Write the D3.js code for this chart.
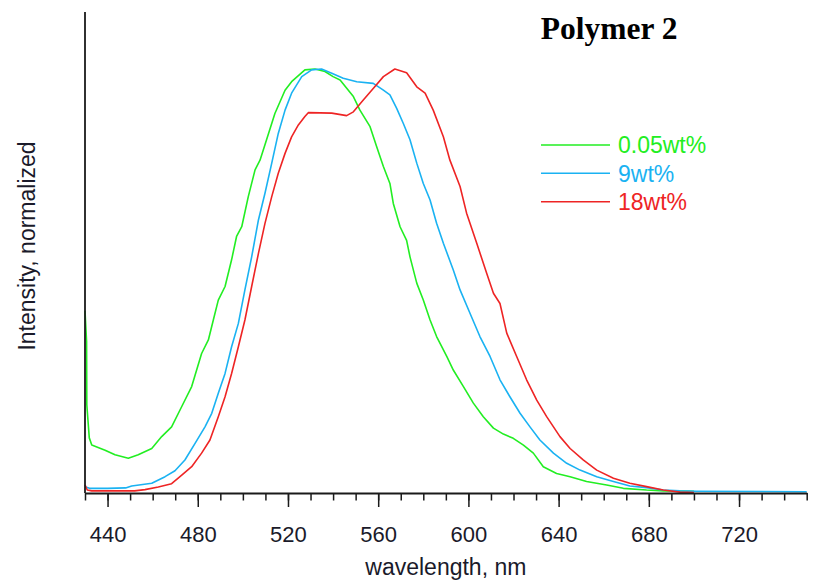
<!DOCTYPE html>
<html>
<head>
<meta charset="utf-8">
<script src="https://cdn.jsdelivr.net/npm/d3@7"></script>
<style>
  html, body { margin: 0; padding: 0; background: #fff; }
  svg { display: block; }
</style>
</head>
<body>
<svg id="chart" width="831" height="584"></svg>
<script>
// Emission spectra of Polymer 2 at three loadings (intensity normalized to peak = 1)
const seriesNames = ["0.05wt%", "9wt%", "18wt%"];
const seriesColors = ["#22ee22", "#1ab2f2", "#ee2424"];

const wl005 = [430, 430.7, 430.8, 431.9, 433, 438.9, 443.3, 449.2, 453.6, 459.6, 464, 468.4, 472.9, 477.3, 481.7, 484.7, 486.9, 489.1, 492.1, 495, 497.2, 499.5, 502.4, 505.4, 507.6, 510.5, 514.2, 518.7, 521.6, 527.5, 532, 536.4, 540, 543.1, 549, 551.9, 556.4, 559.3, 562.3, 565.2, 566.7, 569.7, 572.6, 574.1, 577.1, 580, 583, 585.9, 590.4, 593.3, 597.8, 602.2, 606.6, 611.1, 615.5, 619.9, 624.4, 628.8, 633.2, 639.1, 645.1, 652.4, 661.3, 668.7, 679, 686.4, 700];
const int005 = [0.43, 0.357, 0.208, 0.13, 0.113, 0.101, 0.09, 0.082, 0.09, 0.105, 0.133, 0.156, 0.204, 0.251, 0.329, 0.361, 0.408, 0.455, 0.487, 0.55, 0.605, 0.628, 0.699, 0.762, 0.785, 0.833, 0.895, 0.95, 0.97, 0.998, 1.0, 0.994, 0.982, 0.974, 0.935, 0.903, 0.864, 0.817, 0.77, 0.73, 0.683, 0.628, 0.596, 0.557, 0.495, 0.455, 0.408, 0.369, 0.322, 0.29, 0.251, 0.212, 0.18, 0.153, 0.139, 0.129, 0.113, 0.094, 0.062, 0.046, 0.0385, 0.027, 0.019, 0.011, 0.007, 0.005, 0.004];

const wl9 = [430, 432, 440, 448, 450.7, 459.6, 465.5, 469.9, 474.3, 478.8, 483.2, 486.2, 489.1, 492.1, 495, 498, 500.9, 503.9, 506.9, 509.8, 512.8, 515.7, 518.7, 521.6, 526.1, 530.5, 534.9, 539.4, 544.5, 550.5, 557.8, 562.3, 565.2, 568.2, 571.1, 574.1, 577.1, 580, 583, 585.9, 588.9, 593.3, 596.3, 600.7, 605.1, 609.6, 614, 618.4, 622.9, 627.3, 631.7, 637.7, 643.6, 649.5, 656.9, 664.3, 671.6, 679, 686.4, 693.8, 701.2, 750];
const int9 = [0.015, 0.011, 0.011, 0.012, 0.0165, 0.023, 0.0385, 0.0526, 0.0778, 0.117, 0.156, 0.188, 0.235, 0.282, 0.345, 0.4, 0.479, 0.557, 0.644, 0.707, 0.778, 0.848, 0.903, 0.943, 0.982, 0.998, 1.0, 0.99, 0.978, 0.97, 0.966, 0.95, 0.939, 0.907, 0.872, 0.833, 0.778, 0.73, 0.691, 0.636, 0.589, 0.526, 0.479, 0.424, 0.369, 0.322, 0.267, 0.227, 0.188, 0.156, 0.125, 0.094, 0.07, 0.054, 0.0385, 0.027, 0.0165, 0.0126, 0.007, 0.005, 0.004, 0.003];

const wl18 = [430, 431, 433, 445, 452, 456.6, 462.5, 468.4, 472.9, 477.3, 481.7, 485.4, 489.1, 492.1, 495, 498, 500.9, 503.9, 506.9, 509.8, 512.8, 515.7, 518.7, 521.6, 524.6, 527.5, 529, 539.4, 546, 549, 553.4, 557.8, 562.3, 567.4, 572.6, 577.1, 580.8, 584.4, 588.9, 591.8, 596.3, 599.2, 603.7, 608.1, 611.1, 614, 617, 621.4, 625.8, 630.3, 634.7, 640.6, 645.1, 650.9, 656.9, 664.3, 671.6, 679, 686.4, 693.8, 700];
const int18 = [0.019, 0.007, 0.005, 0.005, 0.005, 0.008, 0.014, 0.022, 0.042, 0.062, 0.094, 0.125, 0.18, 0.227, 0.282, 0.345, 0.408, 0.487, 0.565, 0.636, 0.699, 0.754, 0.801, 0.84, 0.868, 0.888, 0.897, 0.896, 0.89, 0.899, 0.927, 0.954, 0.982, 1.0, 0.991, 0.958, 0.943, 0.903, 0.84, 0.785, 0.723, 0.66, 0.589, 0.518, 0.471, 0.447, 0.377, 0.322, 0.267, 0.219, 0.18, 0.133, 0.105, 0.078, 0.054, 0.035, 0.023, 0.015, 0.007, 0.002, 0.001];

const xMajorTicks = [440, 480, 520, 560, 600, 640, 680, 720];
const xMinorTicks = d3.range(430, 751, 10);

const titleText = "Polymer 2";
const xLabel = "wavelength, nm";
const yLabel = "Intensity, normalized";

const series = [
  { name: seriesNames[0], color: seriesColors[0], pts: wl005.map((w, i) => [w, int005[i]]) },
  { name: seriesNames[1], color: seriesColors[1], pts: wl9.map((w, i) => [w, int9[i]]) },
  { name: seriesNames[2], color: seriesColors[2], pts: wl18.map((w, i) => [w, int18[i]]) }
];

const svg = d3.select("#chart");
const plotLeft = 85, plotRight = 806.7, plotTop = 12, plotBottom = 493;

const x = d3.scaleLinear().domain([430, 750]).range([plotLeft, plotRight]);
const y = d3.scaleLinear().domain([0, 1]).range([plotBottom, 69]);

const font = "Liberation Sans, Arial, sans-serif";

// spectra
const line = d3.line().x(d => x(d[0])).y(d => y(d[1]));
svg.append("g")
  .selectAll("path")
  .data(series)
  .join("path")
  .attr("d", d => line(d.pts))
  .attr("fill", "none")
  .attr("stroke", d => d.color)
  .attr("stroke-width", 1.6)
  .attr("stroke-linejoin", "round");

// x axis: minor ticks every 10 nm, labelled major ticks every 40 nm
const minorAxis = svg.append("g")
  .attr("transform", `translate(0,${plotBottom})`)
  .call(d3.axisBottom(x).tickValues(xMinorTicks).tickSize(7.5).tickFormat(""));
minorAxis.select(".domain").remove();

const majorAxis = svg.append("g")
  .attr("transform", `translate(0,${plotBottom})`)
  .call(d3.axisBottom(x).tickValues(xMajorTicks).tickSize(14).tickSizeOuter(0).tickFormat(d3.format("d")));
majorAxis.select(".domain").attr("stroke", "#1a1a1a").attr("stroke-width", 1.8);
svg.selectAll(".tick line").attr("stroke", "#1a1a1a").attr("stroke-width", 1.5);
majorAxis.selectAll(".tick text")
  .attr("y", 48.7)
  .attr("dy", null)
  .attr("fill", "#1a1a2a")
  .style("font-family", font)
  .style("font-size", "22px");

// y axis line (no ticks)
svg.append("line")
  .attr("x1", plotLeft).attr("x2", plotLeft)
  .attr("y1", plotTop).attr("y2", plotBottom)
  .attr("stroke", "#1a1a1a")
  .attr("stroke-width", 1.8);

// axis titles
svg.append("text")
  .attr("x", (plotLeft + plotRight) / 2)
  .attr("y", 575)
  .attr("text-anchor", "middle")
  .attr("fill", "#1a1a2a")
  .style("font-family", font)
  .style("font-size", "23px")
  .text(xLabel);

svg.append("text")
  .attr("transform", "translate(35,246) rotate(-90)")
  .attr("text-anchor", "middle")
  .attr("fill", "#1a1a2a")
  .style("font-family", font)
  .style("font-size", "23px")
  .text(yLabel);

// title
svg.append("text")
  .attr("x", 540.7)
  .attr("y", 39.3)
  .attr("fill", "#000")
  .style("font-family", "Liberation Serif, Times New Roman, serif")
  .style("font-weight", "bold")
  .style("font-size", "31.5px")
  .text(titleText);

// legend
const legendY = [145, 173.3, 201.7];
const legend = svg.append("g")
  .selectAll("g")
  .data(series)
  .join("g")
  .attr("transform", (d, i) => `translate(0,${legendY[i]})`);
legend.append("line")
  .attr("x1", 541).attr("x2", 610)
  .attr("y1", 0).attr("y2", 0)
  .attr("stroke", d => d.color)
  .attr("stroke-width", 1.6);
legend.append("text")
  .attr("x", 618)
  .attr("y", 8.3)
  .attr("fill", d => d.color)
  .style("font-family", font)
  .style("font-size", "23px")
  .text(d => d.name);
</script>
</body>
</html>
